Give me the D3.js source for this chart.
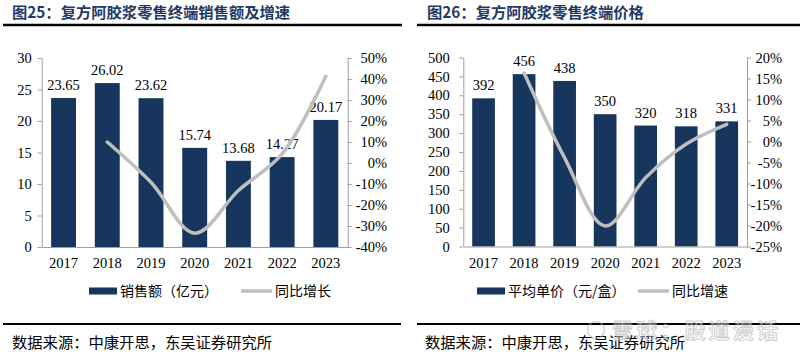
<!DOCTYPE html>
<html><head><meta charset="utf-8">
<script src="https://cdn.jsdelivr.net/npm/d3@7"></script>
<style>
body{margin:0;background:#fff;}
svg{display:block;}
</style></head>
<body>
<svg id="c" width="800" height="357"></svg>
<script>
// ---- data ----
const years = ["2017","2018","2019","2020","2021","2022","2023"];
const salesValues = [23.65, 26.02, 23.62, 15.74, 13.68, 14.27, 20.17];
const salesGrowth = [null, 10.0, -9.2, -33.4, -13.1, 4.3, 41.3];
const priceValues = [392, 456, 438, 350, 320, 318, 331];
const priceGrowth = [null, 16.3, -3.9, -20.1, -8.6, -0.6, 4.1];
const salesTicks = [0, 5, 10, 15, 20, 25, 30];
const salesGrowthTicks = [-40, -30, -20, -10, 0, 10, 20, 30, 40, 50];
const priceTicks = [0, 50, 100, 150, 200, 250, 300, 350, 400, 450, 500];
const priceGrowthTicks = [-25, -20, -15, -10, -5, 0, 5, 10, 15, 20];
const titles = ["图25：复方阿胶浆零售终端销售额及增速", "图26：复方阿胶浆零售终端价格"];
const barLegend = ["销售额（亿元）", "平均单价（元/盒）"];
const lineLegend = ["同比增长", "同比增速"];
const sourceText = "数据来源：中康开思，东吴证券研究所";
const watermark = "雪球：股道漫话";

const svg = d3.select("#c");
const BAR = "#17365D", LINE = "#BFBFBF", AXIS = "#A0A0A0";
const SERIF = "'Liberation Serif','Times New Roman',serif";
const CJK = "'Noto Sans CJK SC','Noto Sans',sans-serif";

function chart(o){
  const g = svg.append("g");
  // title
  g.append("text").attr("x", o.titleX).attr("y", 18)
    .attr("font-family", CJK).attr("font-weight", "bold").attr("font-size", 15.3)
    .attr("fill", "#1F3864").text(o.title);
  g.append("line").attr("x1", o.lineX1).attr("x2", o.lineX2).attr("y1", 25).attr("y2", 25)
    .attr("stroke", "#000").attr("stroke-width", 2.5);
  g.append("line").attr("x1", o.lineX1).attr("x2", o.bLineX2).attr("y1", 324).attr("y2", 324)
    .attr("stroke", "#000").attr("stroke-width", 2);
  g.append("text").attr("x", o.srcX).attr("y", 348)
    .attr("font-family", CJK).attr("font-size", 15.3).attr("fill", "#000").text(sourceText);

  const x = d3.scaleBand().domain(years).range([o.x0, o.x1]).paddingInner(o.pad).paddingOuter(o.pad/2);
  const yL = d3.scaleLinear().domain(o.yDom).range([o.yb, o.yt]);
  const yR = d3.scaleLinear().domain(o.rDom).range([o.yb, o.yt]);

  // bars
  g.selectAll(".bar").data(o.values).enter().append("rect")
    .attr("x", (d,i) => x(years[i])).attr("width", x.bandwidth())
    .attr("y", d => yL(d)).attr("height", d => yL(0) - yL(d)).attr("fill", BAR);
  // labels
  g.selectAll(".lbl").data(o.values).enter().append("text")
    .attr("x", (d,i) => x(years[i]) + x.bandwidth()/2).attr("y", d => yL(d) - 8)
    .attr("text-anchor", "middle").attr("font-family", SERIF).attr("font-size", 14.5)
    .text(d => o.fmt(d));

  // line
  const pts = o.growth.map((v,i) => [years[i], v]).filter(p => p[1] !== null);
  g.append("path").datum(pts)
    .attr("d", d3.line().x(p => x(p[0]) + x.bandwidth()/2).y(p => yR(p[1])).curve(d3.curveCatmullRom.alpha(0.5)))
    .attr("fill", "none").attr("stroke", LINE).attr("stroke-width", 3.5).attr("stroke-linecap", "round");

  // axes
  const aL = g.append("g").attr("transform", `translate(${o.x0},0)`)
    .call(d3.axisLeft(yL).tickValues(o.lTicks).tickSize(4).tickSizeOuter(0));
  aL.selectAll("text").attr("x", -o.lPad);
  const aR = g.append("g").attr("transform", `translate(${o.x1},0)`)
    .call(d3.axisRight(yR).tickValues(o.rTicks).tickSize(4).tickSizeOuter(0).tickFormat(d => d + "%"));
  aR.selectAll("text").attr("text-anchor", "end").attr("x", o.rEnd);
  const aX = g.append("g").attr("transform", `translate(0,${o.yb})`)
    .call(d3.axisBottom(x).tickSize(0).tickSizeOuter(0).tickPadding(11));
  [aL, aR, aX].forEach(a => {
    a.select(".domain").attr("stroke", AXIS);
    a.selectAll(".tick line").attr("stroke", AXIS);
    a.selectAll("text").attr("font-family", SERIF).attr("font-size", 14.5).attr("fill", "#000");
  });

  // legend
  const ly = 291;
  g.append("rect").attr("x", o.legX).attr("y", ly - 3.5).attr("width", 28).attr("height", 7).attr("fill", BAR);
  g.append("text").attr("x", o.legX + 31).attr("y", ly + 5).attr("font-family", CJK).attr("font-size", 14)
    .text(o.barLeg);
  g.append("line").attr("x1", o.leg2X).attr("x2", o.leg2X + 31).attr("y1", ly).attr("y2", ly)
    .attr("stroke", LINE).attr("stroke-width", 3.5);
  g.append("text").attr("x", o.leg2X + 34).attr("y", ly + 5).attr("font-family", CJK).attr("font-size", 14)
    .text(o.lineLeg);
}

chart({title: titles[0], titleX: 12, lineX1: 3, lineX2: 402, bLineX2: 401, srcX: 12,
  x0: 41.7, x1: 347.7, pad: 0.43, yb: 247, yt: 58, yDom: [0, 30], rDom: [-40, 50],
  values: salesValues, growth: salesGrowth, fmt: d => d.toFixed(2),
  lTicks: salesTicks, rTicks: salesGrowthTicks, lPad: 10, rEnd: 39.5,
  legX: 89, leg2X: 241, barLeg: barLegend[0], lineLeg: lineLegend[0]});

chart({title: titles[1], titleX: 427, lineX1: 417, lineX2: 800, bLineX2: 800, srcX: 425,
  x0: 463.3, x1: 747, pad: 0.44, yb: 246.5, yt: 57.5, yDom: [0, 500], rDom: [-25, 20],
  values: priceValues, growth: priceGrowth, fmt: d => d3.format("d")(d),
  lTicks: priceTicks, rTicks: priceGrowthTicks, lPad: 13.5, rEnd: 35,
  legX: 477, leg2X: 638, barLeg: barLegend[1], lineLeg: lineLegend[1]});

// watermark (semi-transparent overlay in the reference)
const wm = svg.append("g").attr("opacity", 0.55);
wm.append("circle").attr("cx", 596).attr("cy", 330).attr("r", 8.5)
  .attr("fill", "none").attr("stroke", "#b0b0b0").attr("stroke-width", 1.5);
wm.append("text").attr("x", 612).attr("y", 338)
  .attr("font-family", CJK).attr("font-size", 21).attr("font-weight", "bold")
  .attr("fill", "#ffffff").attr("stroke", "#a8a8a8").attr("stroke-width", 1)
  .attr("textLength", 166).text(watermark);
</script>
</body></html>
